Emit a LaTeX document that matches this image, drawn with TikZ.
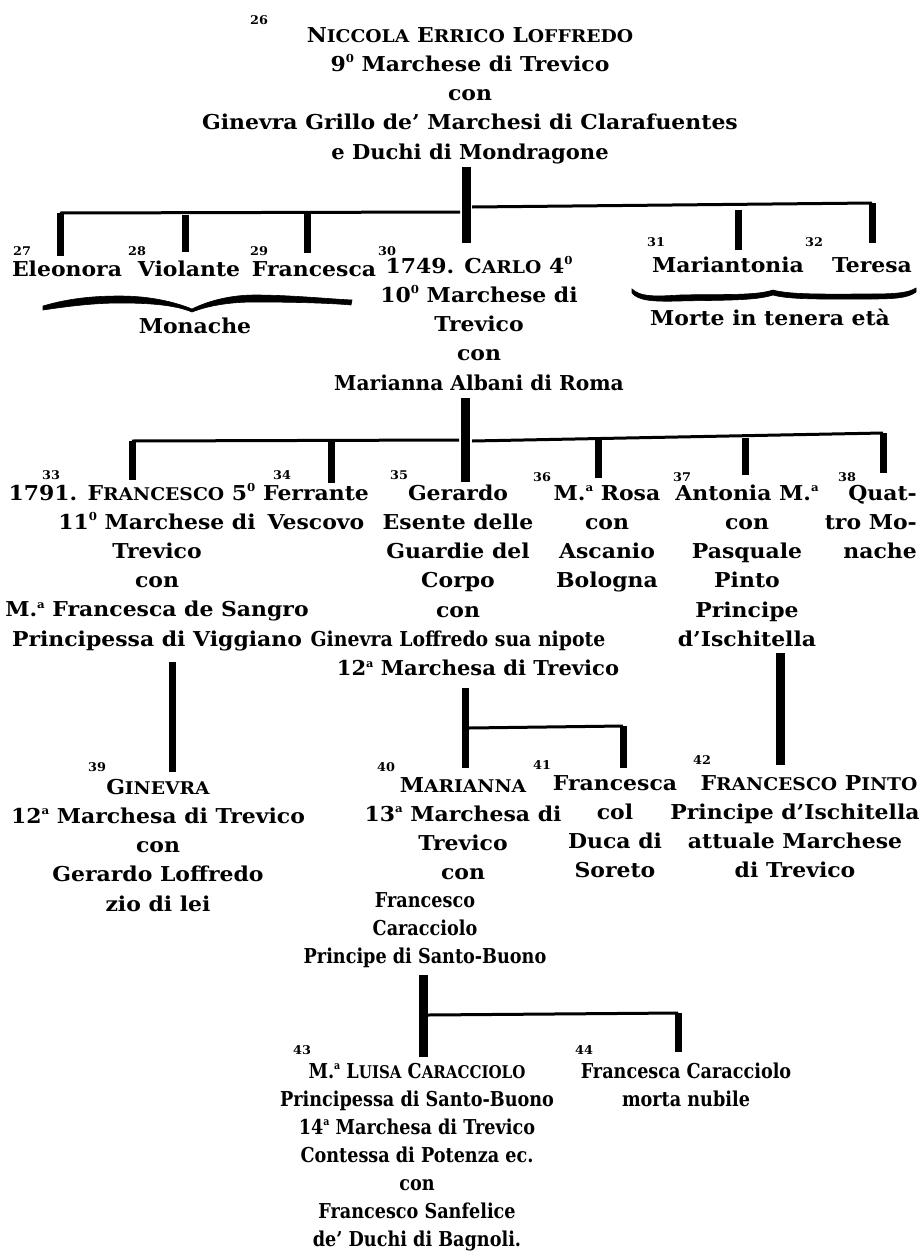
\documentclass[tikz,border=0pt]{standalone}
\usepackage{fontspec}
\usepackage{graphicx}
\setmainfont{DejaVu Serif}[FakeStretch=1.07]
\newfontfamily\condf{DejaVu Serif}[FakeStretch=0.86, Ligatures=TeX]
\newcommand\fsc[2]{#1{\fontsize{17.5}{17.5}\selectfont #2}}
\newcommand\sps[1]{\raisebox{0.8ex}{\fontsize{11}{11}\selectfont #1}}
\newcommand\stk[1]{\begin{tabular}[t]{@{}c@{}}#1\end{tabular}}
\newcommand\stkr[1]{\begin{tabular}[t]{@{}r@{}}#1\end{tabular}}
\newcommand\narrow[2]{\scalebox{#1}[1]{#2}}
\tikzset{
  txt/.style={font=\fontsize{20.5}{29.3}\selectfont\bfseries, inner sep=0pt, anchor=base},
  ctxt/.style={txt, font=\condf\fontsize{20.5}{28}\selectfont\bfseries},
  num/.style={font=\fontsize{12}{12}\selectfont\bfseries, inner sep=0pt, anchor=north west},
  hbar/.style={line width=3pt},
  drop/.style={line width=7pt},
  trunk/.style={line width=9pt},
  brace/.style={fill=black, draw=black, line width=0.6pt}
}
\begin{document}
\begin{tikzpicture}[x=1pt,y=-1pt]
\useasboundingbox (0,0) rectangle (921,1258);
% ---------- generation 1
\node[num] (l26) at (250,15) {26};
\node[txt] (n26) at (470,42) {\stk{\fsc{N}{ICCOLA} \fsc{E}{RRICO} \fsc{L}{OFFREDO}\\9\sps{0} Marchese di Trevico\\con\\Ginevra Grillo de' Marchesi di Clarafuentes\\\narrow{0.96}{e Duchi di Mondragone}}};
% ---------- generation 2
\node[num] (l27) at (13,246) {27};
\node[txt] (n27) at (67,276) {Eleonora};
\node[num] (l28) at (128,246) {28};
\node[txt] (n28) at (189,276) {Violante};
\node[num] (l29) at (250,246) {29};
\node[txt] (n29) at (314,276) {Francesca};
\node[num] (l30) at (378,246) {30};
\node[txt] (n30) at (479,273) {\stk{1749. \fsc{C}{ARLO} 4\sps{0}\\10\sps{0} Marchese di\\Trevico\\con\\\narrow{0.92}{Marianna Albani di Roma}}};
\node[num] (l31) at (647,237) {31};
\node[txt] (n31) at (728,272) {Mariantonia};
\node[num] (l32) at (805,237) {32};
\node[txt] (n32) at (872,272) {Teresa};
\node[txt] (mon) at (195,333) {Monache};
\node[txt] (mor) at (770,325) {Morte in tenera età};
% braces
\path[brace] (43,306) .. controls (70,298) and (95,296) .. (120,296) .. controls (150,296) and (175,302) .. (192,309)
  .. controls (208,301) and (230,295) .. (255,295) .. controls (290,295) and (330,299) .. (352,300)
  -- (351,305) .. controls (330,303) and (290,302) .. (255,302) .. controls (232,302) and (210,305) .. (192,312)
  .. controls (175,305) and (150,303) .. (120,303) .. controls (95,303) and (70,306) .. (43,310) -- cycle;
\path[brace] (632,289) .. controls (640,296) and (650,297) .. (680,295) .. controls (720,294) and (755,296) .. (773,290)
  .. controls (790,295) and (830,294) .. (870,294) .. controls (895,294) and (908,293) .. (916,288)
  -- (916,292) .. controls (908,298) and (895,299) .. (870,299) .. controls (830,299) and (790,300) .. (773,295)
  .. controls (755,301) and (720,300) .. (680,301) .. controls (650,302) and (638,300) .. (632,293) -- cycle;
% ---------- generation 3
\node[num] (l33) at (42,470) {33};
\node[txt] (n33) at (132,500) {1791. \fsc{F}{RANCESCO} 5\sps{0}};
\node[txt] (n33b) at (157,529) {\stk{11\sps{0} Marchese di\\Trevico\\con\\M.\sps{a} Francesca de Sangro\\Principessa di Viggiano}};
\node[num] (l34) at (273,470) {34};
\node[txt] (n34) at (316,500) {\stk{Ferrante\\Vescovo}};
\node[num] (l35) at (390,470) {35};
\node[txt] (n35) at (458,500) {\stk{Gerardo\\Esente delle\\Guardie del\\Corpo\\con\\\narrow{0.86}{Ginevra Loffredo sua nipote}\\\hspace*{40pt}\narrow{0.96}{12\sps{a} Marchesa di Trevico}}};
\node[num] (l36) at (533,472) {36};
\node[txt] (n36) at (607,500) {\stk{M.\sps{a} Rosa\\con\\Ascanio\\Bologna}};
\node[num] (l37) at (673,472) {37};
\node[txt] (n37) at (747,500) {\stk{Antonia M.\sps{a}\\con\\Pasquale\\Pinto\\Principe\\d'Ischitella}};
\node[num] (l38) at (838,472) {38};
\node[txt, anchor=base east] (n38) at (917,500) {\stkr{Quat-\\tro Mo-\\nache}};
% ---------- generation 4
\node[num] (l39) at (88,762) {39};
\node[txt] (n39) at (158,794) {\stk{\fsc{G}{INEVRA}\\12\sps{a} Marchesa di Trevico\\con\\Gerardo Loffredo\\zio di lei}};
\node[num] (l40) at (377,762) {40};
\node[txt] (n40) at (463,792) {\stk{\fsc{M}{ARIANNA}\\13\sps{a} Marchesa di\\Trevico\\con}};
\node[ctxt] (n40b) at (425,907) {\stk{Francesco\\Caracciolo\\Principe di Santo-Buono}};
\node[num] (l41) at (533,760) {41};
\node[txt] (n41) at (615,790) {\stk{Francesca\\col\\Duca di\\Soreto}};
\node[num] (l42) at (693,755) {42};
\node[txt] (n42) at (809,790) {\fsc{F}{RANCESCO} \fsc{P}{INTO}};
\node[txt] (n42b) at (795,819) {\stk{Principe d'Ischitella\\attuale Marchese\\di Trevico}};
% ---------- generation 5
\node[num] (l43) at (293,1045) {43};
\node[ctxt] (n43) at (417,1078) {\stk{M.\sps{a} \fsc{L}{UISA} \fsc{C}{ARACCIOLO}\\Principessa di Santo-Buono\\14\sps{a} Marchesa di Trevico\\Contessa di Potenza ec.\\con\\Francesco Sanfelice\\de' Duchi di Bagnoli.}};
\node[num] (l44) at (575,1045) {44};
\node[ctxt] (n44) at (686,1078) {\stk{Francesca Caracciolo\\morta nubile}};
% ---------- connectors
\coordinate (a0) at (466,167); \coordinate (a1) at (466,243);
\coordinate (b27) at (60,213); \coordinate (e27) at (60,256);
\coordinate (b28) at (185,215); \coordinate (e28) at (185,252);
\coordinate (b29) at (307,213); \coordinate (e29) at (307,253);
\coordinate (bl) at (460,212); \coordinate (br) at (472,207);
\coordinate (b31) at (738,210); \coordinate (e31) at (738,250);
\coordinate (b32) at (872,203); \coordinate (e32) at (872,243);
\draw[trunk] (a0) -- (a1);
\draw[hbar] (b27) -- (bl);
\draw[hbar] (br) -- (b32);
\foreach \s/\e in {b27/e27,b28/e28,b29/e29,b31/e31,b32/e32} \draw[drop] (\s) -- (\e);
\coordinate (c0) at (465,398); \coordinate (c1) at (465,482);
\coordinate (b33) at (132,441); \coordinate (e33) at (132,480);
\coordinate (b34) at (331,441); \coordinate (e34) at (331,483);
\coordinate (cl) at (459,440); \coordinate (cr) at (472,441);
\coordinate (b36) at (598,440); \coordinate (e36) at (598,478);
\coordinate (b37) at (745,438); \coordinate (e37) at (745,475);
\coordinate (b38) at (883,433); \coordinate (e38) at (883,473);
\draw[trunk] (c0) -- (c1);
\draw[hbar] (b33) -- (cl);
\draw[hbar] (cr) -- (b38);
\foreach \s/\e in {b33/e33,b34/e34,b36/e36,b37/e37,b38/e38} \draw[drop] (\s) -- (\e);
\coordinate (d0) at (172,662); \coordinate (d1) at (172,772);
\draw[drop] (d0) -- (d1);
\coordinate (f0) at (465,688); \coordinate (f1) at (465,768);
\coordinate (fr) at (469,728); \coordinate (b41) at (623,726); \coordinate (e41) at (623,768);
\draw[drop] (f0) -- (f1);
\draw[hbar] (fr) -- (b41);
\draw[drop] (b41) -- (e41);
\coordinate (g0) at (780,653); \coordinate (g1) at (780,765);
\draw[trunk] (g0) -- (g1);
\coordinate (h0) at (423,975); \coordinate (h1) at (423,1057);
\coordinate (hr) at (428,1015); \coordinate (b44) at (678,1013); \coordinate (e44) at (678,1052);
\draw[trunk] (h0) -- (h1);
\draw[hbar] (hr) -- (b44);
\draw[drop] (b44) -- (e44);
\end{tikzpicture}
\end{document}
